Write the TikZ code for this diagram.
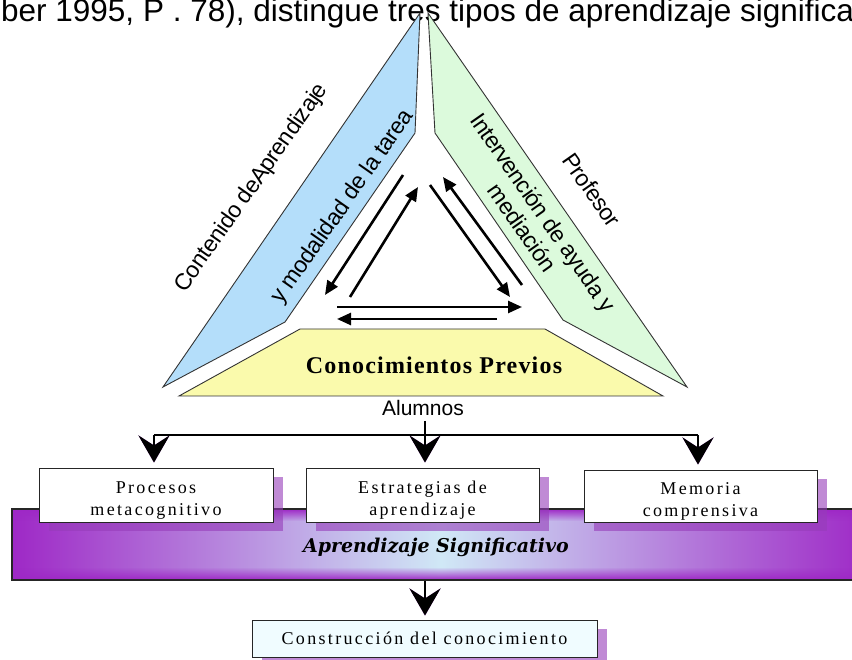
\documentclass[tikz,border=0pt]{standalone}
\usepackage{fontspec}
\usetikzlibrary{arrows.meta,fadings,shadows}
\setmainfont{Liberation Serif}
\newfontfamily\sansf{Liberation Sans}
\newfontfamily\rotf[LetterSpace=-2]{Liberation Sans}
\newfontfamily\boxf[LetterSpace=13]{Liberation Serif}
\newfontfamily\prevf[LetterSpace=5]{Liberation Serif}
\newfontfamily\sigf{DejaVu Serif}
\definecolor{bluefill}{RGB}{180,222,250}
\definecolor{greenfill}{RGB}{220,250,220}
\definecolor{yellowfill}{RGB}{250,250,172}
\definecolor{bandpurple}{RGB}{158,40,198}
\definecolor{bandlight}{RGB}{208,232,246}
\definecolor{shadowpurple}{RGB}{150,60,185}
\definecolor{consfill}{RGB}{240,252,255}
\tikzset{
  shapeline/.style={draw=black!80, line width=0.9pt, line join=miter},
  rotlabel/.style={font=\rotf\fontsize{23}{26}\selectfont, inner sep=0pt, align=center},
  triarrow/.style={line width=2.6pt, -{Triangle[length=14pt,width=12pt]}},
  bigarrow/.style={line width=2pt, -{Stealth[length=27pt,width=31pt,inset=10pt]}},
  shadowarrow/.style={bigarrow, draw=shadowpurple, fill=shadowpurple},
  infobox/.style={draw=black!85, line width=1pt, fill=white, align=center,
    font=\boxf\fontsize{18}{22}\selectfont, inner sep=0pt,
    drop shadow={shadow xshift=10pt, shadow yshift=-9pt, fill=shadowpurple, opacity=0.6}},
}
\newcommand{\lowstrut}{\rule{0pt}{23pt}}
\begin{document}
\begin{tikzpicture}[x=1pt,y=-1pt]
\useasboundingbox (0,0) rectangle (852,660);
\clip (0,0) rectangle (852,660);
\fill[white] (0,0) rectangle (852,660);

% title line (cut off)
\node[anchor=base west, inner sep=0pt, font=\sansf\fontsize{31.5}{31.5}\selectfont] (title) at (1,22)
  {ber 1995, P . 78), distingue tres tipos de aprendizaje significa};

% three shapes
\draw[shapeline, fill=bluefill] (420,13) -- (415,133) -- (285,322) -- (163,387) -- cycle;
\draw[shapeline, fill=greenfill] (428,13) -- (435,133) -- (563,320) -- (687,387) -- cycle;
\draw[shapeline, fill=yellowfill] (300,329) -- (545,329) -- (663,396) -- (179,396) -- cycle;

% labels
\node[rotlabel, rotate=55] (contenido) at (252,188) {Contenido deAprendizaje};
\node[rotlabel, rotate=55] (modalidad) at (343,207) {y modalidad de la tarea};
\node[rotlabel, rotate=-55] (profesor) at (592,190) {Profesor};
\node[rotlabel, rotate=-55] (intervencion) at (533,220) {Intervención de ayuda y\\mediación};
\node[font=\prevf\bfseries\fontsize{24}{24}\selectfont, inner sep=0pt] (previos) at (434,365) {Conocimientos Previos};
\node[font=\sansf\fontsize{21}{21}\selectfont, inner sep=0pt] (alumnos) at (423,408) {Alumnos};

% triangle arrows
\coordinate (a1s) at (403,175); \coordinate (a1e) at (325,295);
\coordinate (a2s) at (350,297); \coordinate (a2e) at (418,187);
\coordinate (a3s) at (430,185); \coordinate (a3e) at (510,297);
\coordinate (a4s) at (522,285); \coordinate (a4e) at (443,177);
\coordinate (a5s) at (337,307); \coordinate (a5e) at (522,307);
\coordinate (a6s) at (497,319); \coordinate (a6e) at (337,319);
\draw[triarrow] (a1s) -- (a1e);
\draw[triarrow] (a2s) -- (a2e);
\draw[triarrow] (a3s) -- (a3e);
\draw[triarrow] (a4s) -- (a4e);
\draw[triarrow] (a5s) -- (a5e);
\draw[triarrow] (a6s) -- (a6e);

% band
\shade[left color=bandpurple, right color=bandpurple, middle color=bandlight] (12,509) rectangle (870,580);
\fill[bandpurple, path fading=south] (12,509) rectangle (870,521);
\fill[bandpurple, path fading=north] (12,567) rectangle (870,580);
\draw[black!85, line width=1.2pt] (12,509) rectangle (870,580);
\node[font=\sigf\bfseries\itshape\fontsize{19}{19}\selectfont, inner sep=0pt] (signif) at (436,547) {Aprendizaje Significativo};

% boxes
\node[infobox, minimum width=234pt, minimum height=54pt] (proc) at (156,495) {\lowstrut Procesos\\metacognitivo};
\node[infobox, minimum width=233pt, minimum height=54pt] (estr) at (422.5,495) {\lowstrut Estrategias de\\aprendizaje};
\node[infobox, minimum width=233pt, minimum height=52pt] (mem) at (700.5,496) {\lowstrut Memoria\\comprensiva};
\node[infobox, fill=consfill, minimum width=345pt, minimum height=37pt] (cons) at (424.5,638.5) {Construcción del conocimiento};

% bracket connectors
\coordinate (stem) at (425,421);
\coordinate (brL) at (154,435);
\coordinate (brM) at (425,435);
\coordinate (brR) at (698,435);
\coordinate (bandbot) at (425,581);
% purple shadows
\begin{scope}[shift={(4,4)}]
  \draw[shadowpurple, line width=2.5pt] (brL) -- (brR);
\end{scope}
\begin{scope}[shift={(6,3)}]
  \draw[shadowarrow, shorten >=5pt] (brL) -- (brL |- proc.north);
  \draw[shadowarrow, shorten >=5pt] (brM) -- (brM |- estr.north);
  \draw[shadowarrow, shorten >=5pt] (brR) -- (brR |- mem.north);
  \draw[shadowarrow, shorten >=4pt] (bandbot) -- (bandbot |- cons.north);
\end{scope}
\draw[line width=2pt] (brL) -- (brR);
\draw[bigarrow, shorten >=5pt] (stem) -- (stem |- estr.north);
\draw[bigarrow, shorten >=5pt] (brL) -- (brL |- proc.north);
\draw[bigarrow, shorten >=5pt] (brR) -- (brR |- mem.north);
\draw[bigarrow, shorten >=4pt] (bandbot) -- (bandbot |- cons.north);
\end{tikzpicture}
\end{document}
